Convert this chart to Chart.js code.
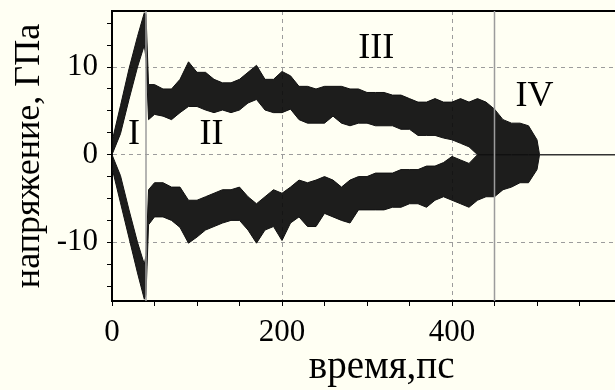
<!DOCTYPE html>
<html>
<head>
<meta charset="utf-8">
<script src="https://cdn.jsdelivr.net/npm/chart.js@4.4.0/dist/chart.umd.min.js"></script>
<style>
  html, body { margin: 0; padding: 0; background: #fffff3; overflow: hidden; }
</style>
</head>
<body>
<canvas id="stressChart" width="624" height="390"></canvas>
<script>
// время, пс
var times = [0, 10, 20, 30, 38, 40, 43, 50, 60, 70, 80, 90, 100, 110, 120, 130, 140, 150, 160, 170, 180, 190,
  200, 210, 220, 230, 240, 250, 260, 270, 280, 290, 300, 310, 320, 330, 340, 350, 360, 370, 380, 390,
  400, 410, 420, 430, 440, 450, 460, 470, 480, 490, 500, 503];
// upper noisy band, top and bottom edge (ГПа)
var upperTop = [1.5, 5.6, 9.8, 13.5, 16.2, 16.0, 8.0, 8.0, 7.5, 7.5, 8.6, 10.6, 9.4, 9.4, 8.6, 8.2, 8.2, 8.6, 9.4, 10.2, 8.6, 8.6,
  9.5, 9.0, 7.8, 7.8, 7.5, 7.8, 7.8, 7.8, 7.5, 7.5, 7.1, 7.1, 7.1, 6.8, 6.8, 6.4, 6.0, 6.0, 6.4, 6.0,
  6.0, 6.4, 6.0, 6.4, 6.0, 5.2, 4.0, 3.6, 3.6, 3.3, 1.7, 0];
var upperBottom = [0, 2.4, 6.3, 10.0, 12.5, 11.0, 4.0, 4.6, 4.4, 4.0, 4.8, 5.5, 5.5, 5.1, 4.8, 5.1, 4.8, 5.1, 5.9, 6.3, 5.1, 4.8,
  4.8, 5.2, 4.0, 3.6, 3.6, 3.6, 4.4, 3.6, 3.3, 3.6, 3.6, 3.3, 3.3, 3.3, 2.9, 2.9, 2.2, 2.2, 2.2, 1.9,
  1.7, 1.3, 0.9, 0, 0, 0, 0, 0, 0, 0, 0, 0];
// lower noisy band
var lowerTop = [0, -2.4, -6.3, -10.0, -12.5, -11.5, -4.0, -3.2, -3.2, -3.7, -3.7, -5.2, -5.2, -4.8, -4.4, -4.0, -4.0, -3.7, -4.8, -5.6, -4.8, -4.0,
  -4.4, -3.7, -2.9, -3.2, -2.9, -2.5, -2.9, -3.7, -2.9, -2.5, -2.5, -2.1, -2.1, -2.1, -1.7, -1.7, -1.7, -1.3, -1.3, -0.9,
  -0.2, -0.6, -1.0, 0, 0, 0, 0, 0, 0, 0, 0, 0];
var lowerBottom = [-1.5, -5.5, -9.5, -13.5, -16.5, -16.0, -8.0, -7.1, -7.1, -7.5, -8.3, -10.1, -9.4, -8.6, -8.2, -7.8, -7.5, -7.5, -8.6, -10.1, -8.6, -8.2,
  -9.8, -7.8, -7.1, -8.2, -8.2, -6.7, -7.1, -7.5, -7.8, -6.3, -6.3, -6.3, -6.3, -6.0, -6.0, -5.6, -5.6, -6.0, -5.2, -4.8,
  -5.2, -5.6, -6.0, -5.2, -4.8, -4.8, -4.0, -3.7, -3.2, -3.2, -1.7, 0];
// flat tail after the signal dies out
var tailTimes = [503, 600];
var tailValues = [0, 0];

// stage boundaries and stage labels
var stageBounds = [40, 450];
var stageNames = ['I', 'II', 'III', 'IV'];
var stageTimes = [26, 117, 311, 497];
var stageValues = [2.3, 2.3, 12.1, 6.6];

var xTicks = [0, 50, 100, 150, 200, 250, 300, 350, 400, 450, 500, 550, 600];
var xLabels = [0, 200, 400];
var xGrid = [200, 400];
var yTicks = [-15, -12.5, -10, -7.5, -5, -2.5, 0, 2.5, 5, 7.5, 10, 12.5, 15];
var yLabels = [-10, 0, 10];
var yMin = -16.7, yMax = 16.4;

var gridGray = '#9c9c9c';
var serif = '"Liberation Serif", "Times New Roman", serif';

function pts(xs, ys) {
  return xs.map(function (x, i) { return { x: x, y: ys[i] }; });
}

var datasets = [];
stageBounds.forEach(function (b) {
  datasets.push({ data: pts([b, b], [yMin, yMax]), borderColor: gridGray, borderWidth: 1.5, fill: false, order: 0 });
});
datasets.push({ data: pts(tailTimes, tailValues), borderColor: '#333', borderWidth: 1.5, fill: false, order: 1 });
datasets.push({ data: pts(times, upperTop), borderColor: '#111', borderWidth: 1, fill: false, order: 2 });
datasets.push({ data: pts(times, upperBottom), borderColor: '#111', backgroundColor: 'rgba(10,10,10,0.92)', borderWidth: 1, fill: '-1', order: 2 });
datasets.push({ data: pts(times, lowerTop), borderColor: '#111', borderWidth: 1, fill: false, order: 2 });
datasets.push({ data: pts(times, lowerBottom), borderColor: '#111', backgroundColor: 'rgba(10,10,10,0.92)', borderWidth: 1, fill: '-1', order: 2 });

var stagePlugin = {
  id: 'stages',
  afterDatasetsDraw: function (chart) {
    var ctx = chart.ctx, xs = chart.scales.x, ys = chart.scales.y;
    ctx.save();
    ctx.font = '36px ' + serif;
    ctx.fillStyle = '#000';
    ctx.textAlign = 'center';
    ctx.textBaseline = 'middle';
    for (var i = 0; i < stageNames.length; i++) {
      ctx.fillText(stageNames[i], xs.getPixelForValue(stageTimes[i]), ys.getPixelForValue(stageValues[i]));
    }
    ctx.restore();
  }
};

var ctx = document.getElementById('stressChart').getContext('2d');
var chart = new Chart(ctx, {
  type: 'line',
  data: { datasets: datasets },
  plugins: [stagePlugin],
  options: {
    responsive: false,
    animation: false,
    layout: { padding: { top: 11, right: 2, left: 0, bottom: 0 } },
    elements: { point: { radius: 0 }, line: { tension: 0 } },
    plugins: { legend: { display: false }, tooltip: { enabled: false } },
    scales: {
      x: {
        type: 'linear', min: 0, max: 600,
        afterBuildTicks: function (s) { s.ticks = xTicks.map(function (v) { return { value: v }; }); },
        afterFit: function (s) { s.height = 89; s.paddingLeft = 0; s.paddingRight = 0; },
        ticks: {
          autoSkip: false, maxRotation: 0, padding: 8, color: '#000',
          font: { family: serif, size: 31 },
          callback: function (v) { return xLabels.indexOf(v) >= 0 ? String(v) : ''; }
        },
        grid: {
          color: function (c) { return c.tick && xGrid.indexOf(c.tick.value) >= 0 ? gridGray : 'rgba(0,0,0,0)'; },
          tickColor: '#000', tickLength: 5, lineWidth: 1
        },
        border: { color: '#000', width: 2, dash: [4, 4] },
        title: { display: true, text: '\u00a0\u00a0\u00a0время,пс', color: '#000', font: { family: serif, size: 39, lineHeight: 1 }, padding: { top: 0, bottom: 3 } }
      },
      xTop: {
        type: 'linear', position: 'top', min: 0, max: 600,
        afterFit: function (s) { s.height = 0; s.paddingLeft = 0; s.paddingRight = 0; },
        ticks: { display: false },
        grid: { display: false, drawTicks: false },
        border: { display: true, color: '#000', width: 2 }
      },
      y: {
        type: 'linear', min: yMin, max: yMax,
        afterBuildTicks: function (s) { s.ticks = yTicks.map(function (v) { return { value: v }; }); },
        afterFit: function (s) { s.width = 112; s.paddingTop = 0; s.paddingBottom = 0; },
        ticks: {
          autoSkip: false, padding: 9, color: '#000',
          font: { family: serif, size: 31 },
          callback: function (v) { return yLabels.indexOf(v) >= 0 ? String(v) : ''; }
        },
        grid: {
          color: function (c) { return c.tick && yLabels.indexOf(c.tick.value) >= 0 ? gridGray : 'rgba(0,0,0,0)'; },
          tickColor: '#000', tickLength: 5, lineWidth: 1
        },
        border: { color: '#000', width: 2, dash: [4, 4] },
        title: { display: true, text: 'напряжение, ГПа', color: '#000', font: { family: serif, size: 36, lineHeight: 1 }, padding: { top: 12, bottom: 0 } }
      }
    }
  }
});
</script>
</body>
</html>
